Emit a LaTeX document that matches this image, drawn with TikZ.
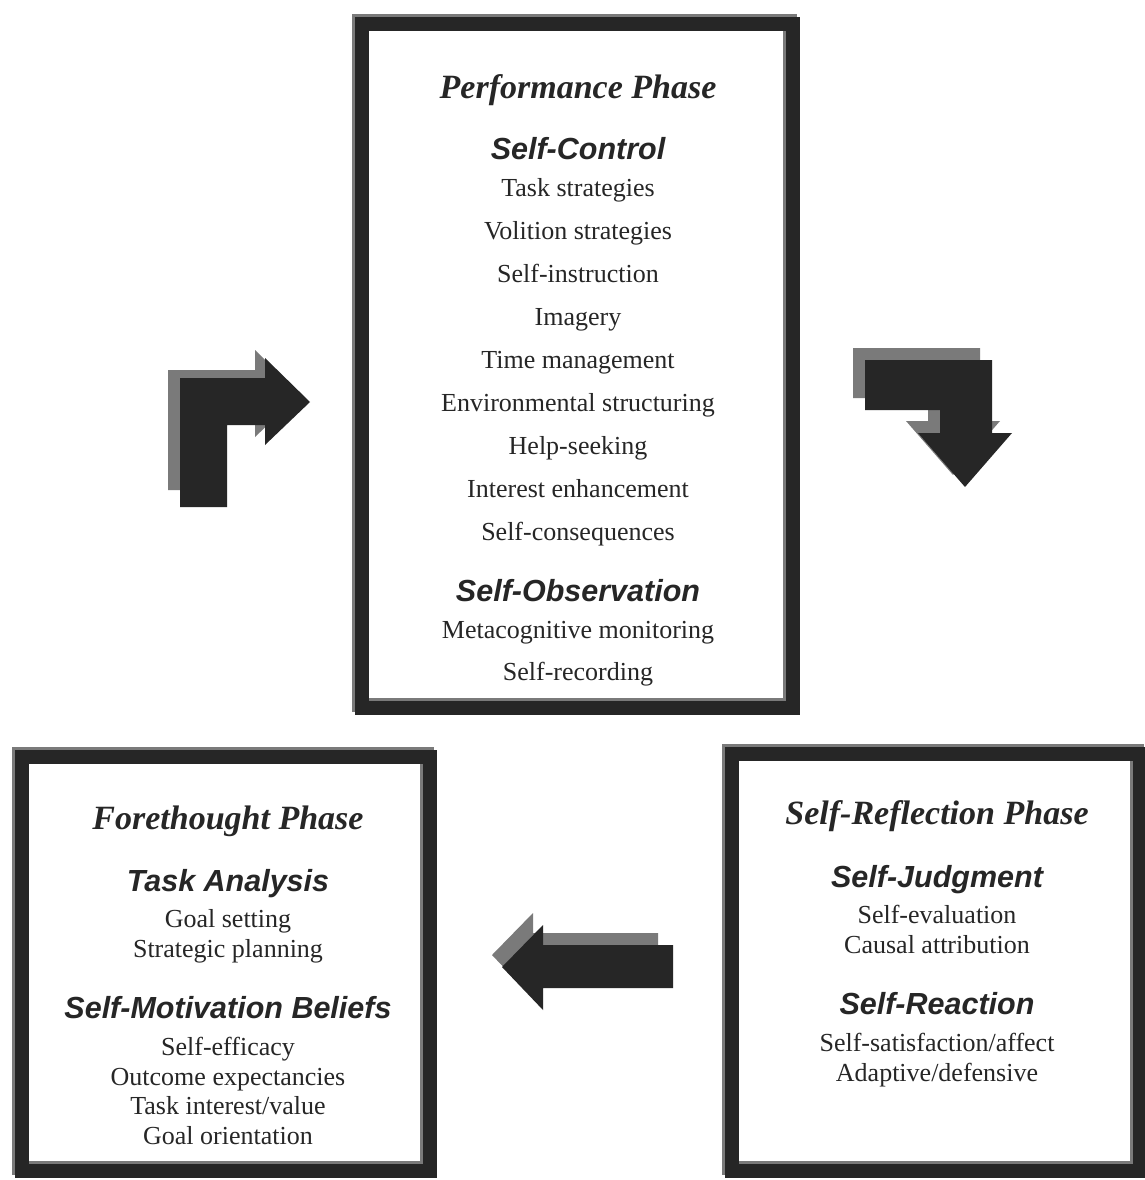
\documentclass[tikz,border=0pt]{standalone}
\usepackage{fontspec}
\setmainfont{Liberation Serif}
\setsansfont{Liberation Sans}
\definecolor{boxdark}{HTML}{262626}
\definecolor{boxgray}{HTML}{7A7A7A}
\begin{document}
\begin{tikzpicture}[x=1pt,y=-1pt,
  txt/.style={inner sep=0pt, text=boxdark, text height=0.7em, text depth=0.2em},
  phase/.style={txt, yshift=-9pt, font=\fontsize{34}{34}\selectfont\bfseries\itshape},
  subhead/.style={txt, yshift=-9pt, font=\fontsize{30.5}{30.5}\selectfont\sffamily\bfseries\itshape},
  item/.style={txt, yshift=-7pt, font=\fontsize{26}{26}\selectfont},
  frame/.style={draw=boxdark, line width=14pt},
  shadowframe/.style={draw=boxgray, line width=14pt},
  arrowbody/.style={fill=boxdark},
  arrowshadow/.style={fill=boxgray}]
\useasboundingbox (0,0) rectangle (1144,1180);
\fill[white] (0,0) rectangle (1144,1180);

% ---- frames ----
\draw[shadowframe] (359,21) rectangle (790,705);
\draw[frame] (362,24) rectangle (793,708);
\draw[shadowframe] (19,754) rectangle (427,1168);
\draw[frame] (22,757) rectangle (430,1171);
\draw[shadowframe] (729,751) rectangle (1137,1168);
\draw[frame] (732,754) rectangle (1140,1171);

% ---- Performance phase ----
\node[phase]   (perf)  at (578,87)  {Performance Phase};
\node[subhead] (sc)    at (578,148) {Self-Control};
\node[item]    (p1)    at (578,187) {Task strategies};
\node[item]    (p2)    at (578,230) {Volition strategies};
\node[item]    (p3)    at (578,273) {Self-instruction};
\node[item]    (p4)    at (578,316) {Imagery};
\node[item]    (p5)    at (578,359) {Time management};
\node[item]    (p6)    at (578,402) {Environmental structuring};
\node[item]    (p7)    at (578,445) {Help-seeking};
\node[item]    (p8)    at (578,488) {Interest enhancement};
\node[item]    (p9)    at (578,531) {Self-consequences};
\node[subhead] (so)    at (578,590) {Self-Observation};
\node[item]    (p10)   at (578,629) {Metacognitive monitoring};
\node[item]    (p11)   at (578,671) {Self-recording};

% ---- Forethought phase ----
\node[phase]   (fore)  at (228,818)  {Forethought Phase};
\node[subhead] (ta)    at (228,880)  {Task Analysis};
\node[item]    (f1)    at (228,918)  {Goal setting};
\node[item]    (f2)    at (228,948)  {Strategic planning};
\node[subhead] (smb)   at (228,1007) {Self-Motivation Beliefs};
\node[item]    (f3)    at (228,1046) {Self-efficacy};
\node[item]    (f4)    at (228,1076) {Outcome expectancies};
\node[item]    (f5)    at (228,1105) {Task interest/value};
\node[item]    (f6)    at (228,1135) {Goal orientation};

% ---- Self-reflection phase ----
\node[phase]   (refl)  at (937,813)  {Self-Reflection Phase};
\node[subhead] (sj)    at (937,876)  {Self-Judgment};
\node[item]    (r1)    at (937,914)  {Self-evaluation};
\node[item]    (r2)    at (937,944)  {Causal attribution};
\node[subhead] (sr)    at (937,1003) {Self-Reaction};
\node[item]    (r3)    at (937,1042) {Self-satisfaction/affect};
\node[item]    (r4)    at (937,1072) {Adaptive/defensive};

% ---- block arrows ----
% forethought -> performance
\fill[arrowshadow] (168,490) -- (168,370) -- (255,370) -- (255,350) -- (300,394) -- (255,437) -- (255,417) -- (215,417) -- (215,490) -- cycle;
\fill[arrowbody] (180,507) -- (180,378) -- (265,378) -- (265,358) -- (310,402) -- (265,445) -- (265,425) -- (227,425) -- (227,507) -- cycle;
% performance -> self-reflection
\fill[arrowshadow] (853,348) -- (980,348) -- (980,421) -- (1000,421) -- (953,475) -- (906,421) -- (928,421) -- (928,398) -- (853,398) -- cycle;
\fill[arrowbody] (865,360) -- (992,360) -- (992,433) -- (1012,433) -- (965,487) -- (918,433) -- (940,433) -- (940,410) -- (865,410) -- cycle;
% self-reflection -> forethought
\fill[arrowshadow] (658,933) -- (533,933) -- (533,913) -- (492,955) -- (533,998) -- (533,976) -- (658,976) -- cycle;
\fill[arrowbody] (673,945) -- (543,945) -- (543,925) -- (502,967) -- (543,1010) -- (543,988) -- (673,988) -- cycle;
\end{tikzpicture}
\end{document}
